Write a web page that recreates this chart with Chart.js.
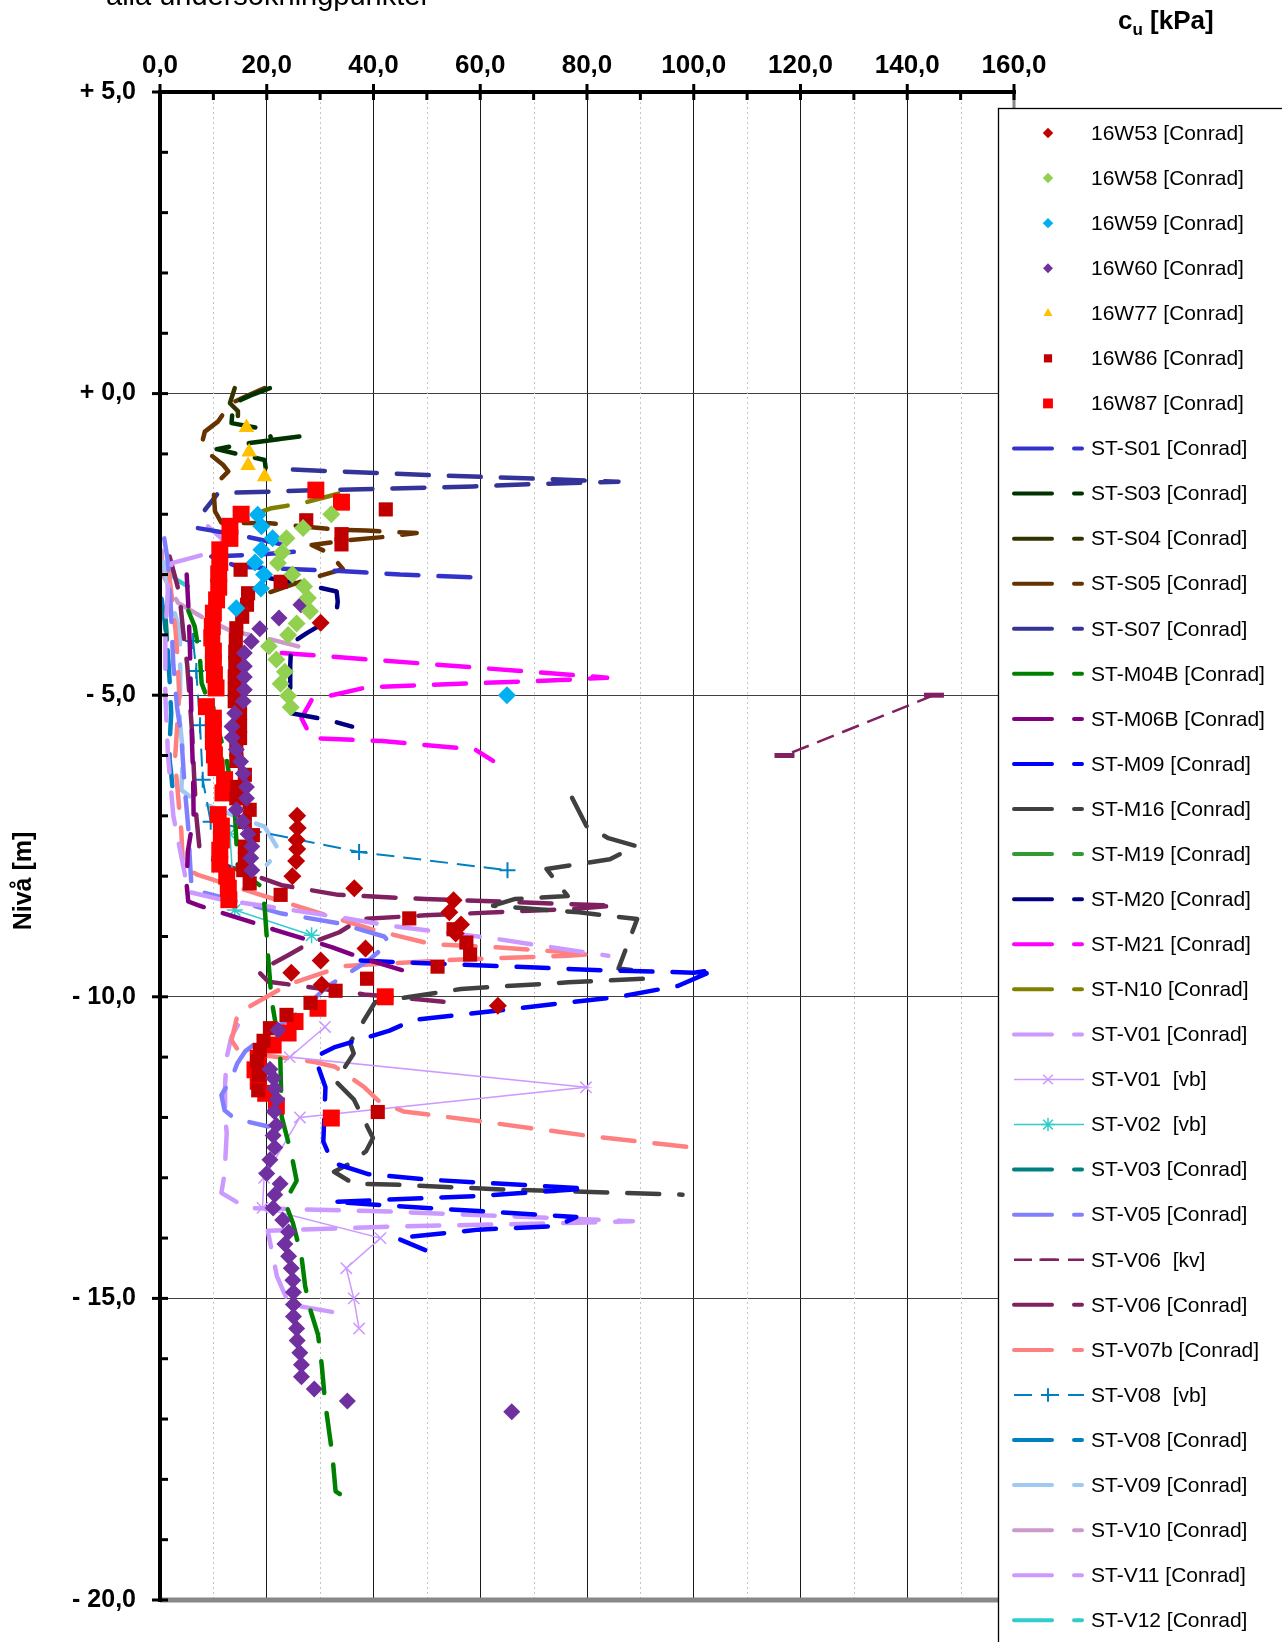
<!DOCTYPE html>
<html>
<head>
<meta charset="utf-8">
<title>cu - alla undersökningpunkter</title>
<script src="https://cdn.jsdelivr.net/npm/chart.js@4.4.1/dist/chart.umd.min.js"></script>
<style>
  html, body { margin: 0; padding: 0; background: #fff; }
  #wrap { width: 1282px; height: 1642px; }
</style>
</head>
<body>
<div id="wrap"><canvas id="myChart" width="1282" height="1642"></canvas></div>
<script>
// [cu kPa, nivå m]
const w53 = [[30.1,-3.8],[25.7,-7.0],[25.8,-7.2],[25.6,-7.4],[25.7,-7.55],[25.5,-7.75],[24.8,-8.0],[36.4,-8.2],[55.0,-8.4],[54.2,-8.6],[56.4,-8.8],[55.4,-8.95],[38.5,-9.2],[30.1,-9.4],[24.6,-9.6],[30.3,-9.8],[63.3,-10.15]];
const w58 = [[32.1,-2.0],[26.8,-2.23],[23.7,-2.4],[22.9,-2.63],[22.1,-2.81],[24.8,-3.0],[27.0,-3.2],[27.7,-3.39],[28.1,-3.61],[25.6,-3.81],[24.0,-4.0],[20.4,-4.19],[21.8,-4.41],[23.4,-4.61],[22.6,-4.81],[24.0,-5.01],[24.5,-5.2]];
const w59 = [[18.3,-2.01],[19.0,-2.2],[21.1,-2.4],[19.0,-2.59],[17.8,-2.8],[19.5,-3.0],[18.9,-3.23],[14.3,-3.56],[65.0,-5.0]];
const w60 = [[26.4,-3.5],[22.3,-3.72],[18.7,-3.9],[17.1,-4.11],[15.8,-4.3],[15.8,-4.52],[15.8,-4.7],[15.8,-4.91],[15.6,-5.1],[14.0,-5.3],[13.5,-5.52],[13.5,-5.7],[14.3,-5.9],[15.1,-6.1],[15.6,-6.3],[16.2,-6.52],[16.2,-6.71],[14.3,-6.9],[15.5,-7.1],[16.5,-7.3],[17.2,-7.51],[17.0,-7.7],[17.2,-7.9],
  [22.1,-10.55],[20.6,-11.2],[21.3,-11.35],[21.5,-11.52],[21.9,-11.7],[21.4,-11.9],[21.8,-12.13],[21.2,-12.3],[21.5,-12.5],[20.6,-12.7],[20.0,-12.93],[22.5,-13.1],[21.5,-13.28],[21.2,-13.5],[23.0,-13.7],[24.1,-13.9],[23.4,-14.1],[24.1,-14.3],[24.6,-14.5],[24.9,-14.7],[25.0,-14.9],[25.0,-15.1],[25.0,-15.3],[25.6,-15.5],[25.7,-15.7],[26.2,-15.9],[26.5,-16.1],[26.5,-16.3],[28.9,-16.5],[35.1,-16.7],[65.9,-16.88]];
const w77 = [[16.2,-0.56],[16.7,-0.97],[16.5,-1.19],[19.6,-1.38]];
const w86 = [[42.3,-1.92],[27.4,-2.1],[34.0,-2.33],[34.0,-2.5],[15.1,-2.92],[22.6,-3.12],[16.5,-3.31],[16.3,-3.5],[15.4,-3.7],[14.3,-3.89],[14.2,-4.08],[14.1,-4.28],[14.1,-4.47],[14.0,-4.69],[14.0,-4.91],[14.0,-5.1],[15.0,-5.3],[15.0,-5.52],[15.0,-5.71],[14.3,-5.9],[14.3,-6.09],[15.9,-6.32],[14.5,-6.52],[14.3,-6.71],[16.8,-6.9],[15.9,-7.1],[17.4,-7.32],[15.9,-7.51],[15.9,-7.71],[15.6,-7.9],[16.8,-8.12],[22.6,-8.31],
  [46.7,-8.7],[55.0,-8.88],[57.4,-9.1],[58.1,-9.3],[52.0,-9.5],[38.8,-9.7],[32.9,-9.9],[28.2,-10.1],[23.7,-10.3],[20.6,-10.52],[19.4,-10.73],[18.7,-10.88],[18.2,-11.07],[18.5,-11.3],[18.4,-11.55],[40.8,-11.91]];
const w87 = [[29.2,-1.6],[34.0,-1.8],[15.2,-2.0],[13.1,-2.2],[13.1,-2.4],[11.2,-2.59],[11.2,-2.8],[11.0,-2.99],[11.0,-3.21],[10.6,-3.42],[10.0,-3.64],[9.8,-3.86],[9.7,-4.05],[10.0,-4.27],[10.0,-4.46],[10.2,-4.66],[10.5,-4.88],[8.7,-5.19],[10.0,-5.38],[10.0,-5.57],[10.0,-5.77],[10.2,-5.99],[10.5,-6.2],[12.1,-6.4],[11.8,-6.62],[10.9,-6.98],[11.5,-7.17],[11.5,-7.4],[11.2,-7.57],[11.2,-7.8],[12.5,-8.0],[12.8,-8.2],[12.9,-8.39],
  [42.2,-10.0],[29.6,-10.19],[25.3,-10.41],[24.0,-10.6],[21.2,-10.8],[18.4,-11.02],[17.8,-11.21],[18.4,-11.4],[19.8,-11.6],[21.8,-11.81],[32.1,-12.01]];

const s01 = [[7.1,-2.23],[15,-2.35],[23.4,-2.51],[25.5,-2.62],[20,-2.66],[9.6,-2.7],[14.6,-2.87],[27.8,-2.92],[33.7,-2.94],[45,-3.0],[60,-3.05]];
const s03 = [[20.6,0.09],[17,-0.03],[13.7,-0.16],[13.4,-0.49],[20.3,-0.6],[20.9,-0.77],[26.2,-0.71],[16.8,-0.82],[10.6,-0.92],[15,-1.01],[19.6,-1.1],[19.8,-1.23]];
const s04 = [[14.0,0.09],[13.1,-0.16],[14.6,-0.29],[14.6,-0.49]];
const s05 = [[19.6,0.09],[16,-0.05],[13.1,-0.17],[10.9,-0.46],[8.4,-0.63],[8.0,-0.77],[8.7,-0.96],[11.8,-1.18],[12.8,-1.29],[10.0,-1.54],[10.3,-1.95],[11.5,-2.14],[20.6,-2.15],[33.7,-2.26],[38.7,-2.27],[42.4,-2.29],[48.1,-2.31],[42.8,-2.37],[34.3,-2.44],[28.4,-2.51],[31.8,-2.65],[34.3,-2.91],[27,-3.1],[20.0,-3.31]];
const s07 = [[24.9,-1.26],[50,-1.35],[73.7,-1.42],[85.9,-1.46],[70,-1.5],[58.7,-1.54],[30,-1.6],[10.9,-1.65],[8.4,-1.93]];
const m04b = [[5.3,-3.6],[6.5,-3.86],[7.5,-4.4],[7.8,-4.8],[9.5,-5.2],[11,-5.6],[12.5,-6.07],[14.0,-6.9],[14.6,-7.9],[19.0,-8.17],[19.6,-8.5],[20.3,-9.39],[20.9,-10.05],[22.5,-10.88],[22.8,-11.99],[24.6,-12.6],[25.6,-13.05],[23.4,-13.4],[24.9,-13.75],[26.5,-14.3],[27.2,-14.8],[28.2,-15.2],[29.6,-15.6],[30.3,-16.1],[30.9,-16.7],[32.3,-17.6],[32.9,-18.2],[36.6,-18.4]];
const m06b = [[5,-3.0],[5.3,-3.5],[5.6,-4.2],[5.8,-5.0],[6.0,-5.8],[6.2,-6.3],[6.3,-7.0],[5.2,-7.6],[5.0,-8.15],[5.3,-8.42],[7.1,-8.48],[10.9,-8.59],[17.8,-8.78],[21.5,-8.89],[32.3,-9.18],[37.6,-9.35],[47.7,-9.62]];
const m09 = [[37.6,-9.4],[63,-9.49],[83,-9.56],[100,-9.6],[104,-9.55],[97,-9.82],[86,-10.0],[63,-10.23],[47.7,-10.38],[43,-10.56],[32.6,-10.84],[29,-11.0],[31,-11.5],[30.6,-12.4],[32.3,-12.75],[39,-12.94],[50,-13.03],[80,-13.18],[60,-13.3],[32.3,-13.4],[50,-13.5],[78,-13.65],[74.5,-13.8],[59.7,-13.86],[44.3,-14.0],[49.7,-14.2]];
const m16 = [[77.2,-6.7],[79.9,-7.17],[84,-7.37],[89.2,-7.5],[84.3,-7.72],[72.4,-7.88],[76.4,-8.33],[66.4,-8.38],[62.4,-8.49],[78.5,-8.6],[89.4,-8.71],[87.7,-9.11],[85.9,-9.53],[88.7,-9.56],[91,-9.7],[76.5,-9.76],[56.4,-9.87],[40.3,-10.09],[37.6,-10.48],[35.6,-10.76],[36.3,-10.94],[32.9,-11.4],[36.3,-11.7],[39.9,-12.34],[38.6,-12.56],[35.9,-12.75],[32.6,-12.9],[36.3,-13.1],[43,-13.11],[63,-13.19],[97.9,-13.28]];
const m19 = [[10,-5.2],[10.8,-5.6],[11.5,-6.0],[12.1,-6.5]];
const m20 = [[20.6,-3.06],[29.0,-3.2],[33.1,-3.28],[33.3,-3.45],[33.1,-3.6],[30.6,-3.81],[27.5,-3.97],[24.6,-4.14],[24.4,-4.5],[24.4,-4.86],[24.6,-5.3],[31.5,-5.41],[36,-5.52]];
const m21 = [[22.8,-4.3],[50,-4.48],[83.8,-4.71],[75,-4.75],[50,-4.83],[38.7,-4.87],[28.4,-5.08],[26.5,-5.38],[28.4,-5.71],[41.6,-5.76],[59,-5.9],[62.4,-6.09]];
const n10 = [[33.4,-1.66],[26.5,-1.82],[20.9,-1.9],[19.3,-1.95]];
const v01 = [[9.0,-2.2],[11.5,-2.4],[12,-2.55],[9.0,-2.65],[2.2,-2.81],[1.5,-3.2],[1.0,-4.0],[1.0,-5.0],[1.5,-6.0],[2.5,-7.0],[4.5,-7.9],[5.3,-8.26],[12,-8.4],[20,-8.5],[32.8,-8.67],[43,-8.82],[63,-9.04],[84,-9.32]];
const v01vb = [[30.9,-10.5],[24.3,-11.0],[79.8,-11.5],[26.2,-12.0],[19.5,-13.0],[19.2,-13.5],[41.3,-14.0],[34.9,-14.5],[36.3,-15.0],[37.3,-15.5]];
const v02vb = [[13.1,-7.3],[14.0,-8.56],[28.4,-8.98]];
const v03 = [[0.9,-3.55],[1.2,-3.92],[1.3,-4.1]];
const v05 = [[0.8,-2.4],[1.5,-2.8],[2,-3.5],[2.5,-4.5],[3.2,-5.2],[4.0,-5.69],[4.6,-6.5],[5.3,-7.2],[5.6,-7.73],[5.9,-8.17],[8.4,-8.28],[15.9,-8.45],[22.8,-8.62],[33.4,-8.78],[42,-9.0],[43,-9.1],[39,-9.4],[31,-9.85],[27,-10.2],[22,-10.5],[16,-10.9],[14.5,-11.1],[13.4,-11.35],[11.5,-11.63],[12.1,-11.88],[14.0,-12.02],[20.3,-12.15]];
const v06kv = [[145,-5.0],[117,-6.0]];
const v06 = [[1.8,-2.7],[3.6,-3.3],[4.3,-3.9],[5.1,-4.5],[5.6,-5.1],[6.0,-5.6],[6.4,-6.35],[6.8,-7.0],[7.4,-7.54],[10.3,-7.76],[22.8,-8.15],[33.4,-8.31],[49.7,-8.38],[66.4,-8.43],[85.2,-8.49],[77.8,-8.54],[49.7,-8.65],[37.6,-8.71],[33.6,-8.93],[27.6,-9.13],[24.0,-9.31],[18.4,-9.58],[20.3,-9.75],[38.3,-9.96],[48.3,-10.04],[55,-10.1]];
const v07b = [[1.6,-2.9],[2.9,-3.92],[3.3,-4.4],[3.6,-5.0],[2.8,-6.08],[3.4,-6.68],[4.0,-7.26],[4.3,-7.84],[7.1,-7.98],[17.8,-8.28],[39.6,-8.88],[51,-9.13],[63,-9.18],[81,-9.29],[76.5,-9.32],[56.4,-9.38],[34.3,-9.49],[24.2,-9.79],[14.6,-10.27],[13.4,-10.72],[14.6,-10.88],[16.6,-10.94],[24.0,-11.02],[29.0,-11.08],[32.8,-11.16],[38.3,-11.5],[40.9,-11.72],[45.6,-11.9],[59.7,-12.06],[79.8,-12.3],[98.9,-12.49]];
const v08vb = [[6.2,-4.1],[6.8,-4.6],[7.5,-5.5],[8,-6.4],[9.5,-7.1],[37.3,-7.6],[65.1,-7.9]];
const v08 = [[0.3,-3.4],[0.9,-3.8],[1.4,-4.2],[1.8,-4.75],[2.1,-5.3],[1.8,-5.8],[1.8,-6.07],[2.1,-6.3],[2.5,-6.7]];
const v09 = [[0.8,-2.8],[1.5,-3.25],[3.7,-3.92],[3.8,-4.6],[3.7,-5.41],[4.3,-5.96],[4.0,-6.57],[6.5,-6.74],[13.4,-6.98],[19.6,-7.18],[22.4,-7.59],[20.0,-7.81]];
const v10 = [[0.3,-2.6],[0.5,-3.0],[3.4,-3.47],[7.8,-3.7],[13.4,-3.94],[19.6,-4.05],[25.9,-4.19]];
const v11 = [[14.6,-10.47],[13.4,-10.66],[12.5,-11.0],[12.2,-11.44],[12.2,-12.0],[12.5,-12.26],[12.1,-12.93],[11.5,-13.25],[16.2,-13.5],[43,-13.56],[88.6,-13.72],[76.5,-13.75],[43,-13.81],[20.2,-13.88],[21.9,-14.63],[24.2,-15.1],[35.9,-15.28]];
const v12 = [[0.8,-2.85],[3,-3.08],[6.5,-3.26]];

const xTicks = [0, 20, 40, 60, 80, 100, 120, 140, 160];
const yTicks = [5, 0, -5, -10, -15, -20];

// serier i legendordning
const series = [
  { label: '16W53 [Conrad]', data: w53, kind: 'marker', color: '#C00000', style: 'rectRot', r: 9 },
  { label: '16W58 [Conrad]', data: w58, kind: 'marker', color: '#92D050', style: 'rectRot', r: 9 },
  { label: '16W59 [Conrad]', data: w59, kind: 'marker', color: '#00B0F0', style: 'rectRot', r: 9 },
  { label: '16W60 [Conrad]', data: w60, kind: 'marker', color: '#7030A0', style: 'rectRot', r: 8.5 },
  { label: '16W77 [Conrad]', data: w77, kind: 'marker', color: '#FFC000', style: 'triangle', r: 9 },
  { label: '16W86 [Conrad]', data: w86, kind: 'marker', color: '#C00000', style: 'rect', r: 10 },
  { label: '16W87 [Conrad]', data: w87, kind: 'marker', color: '#FF0000', style: 'rect', r: 12 },
  { label: 'ST-S01 [Conrad]', data: s01, kind: 'conrad', color: '#3333CC' },
  { label: 'ST-S03 [Conrad]', data: s03, kind: 'conrad', color: '#003300' },
  { label: 'ST-S04 [Conrad]', data: s04, kind: 'conrad', color: '#333300' },
  { label: 'ST-S05 [Conrad]', data: s05, kind: 'conrad', color: '#663300' },
  { label: 'ST-S07 [Conrad]', data: s07, kind: 'conrad', color: '#333399' },
  { label: 'ST-M04B [Conrad]', data: m04b, kind: 'conrad', color: '#008000' },
  { label: 'ST-M06B [Conrad]', data: m06b, kind: 'conrad', color: '#800080' },
  { label: 'ST-M09 [Conrad]', data: m09, kind: 'conrad', color: '#0000FF' },
  { label: 'ST-M16 [Conrad]', data: m16, kind: 'conrad', color: '#404040' },
  { label: 'ST-M19 [Conrad]', data: m19, kind: 'conrad', color: '#339933' },
  { label: 'ST-M20 [Conrad]', data: m20, kind: 'conrad', color: '#000080' },
  { label: 'ST-M21 [Conrad]', data: m21, kind: 'conrad', color: '#FF00FF' },
  { label: 'ST-N10 [Conrad]', data: n10, kind: 'conrad', color: '#808000' },
  { label: 'ST-V01 [Conrad]', data: v01, kind: 'conrad', color: '#CC99FF' },
  { label: 'ST-V01  [vb]', data: v01vb, kind: 'vb', color: '#CC99FF', style: 'crossRot', r: 8 },
  { label: 'ST-V02  [vb]', data: v02vb, kind: 'vb', color: '#33CCCC', style: 'star', r: 8 },
  { label: 'ST-V03 [Conrad]', data: v03, kind: 'conrad', color: '#008080' },
  { label: 'ST-V05 [Conrad]', data: v05, kind: 'conrad', color: '#8080FF' },
  { label: 'ST-V06  [kv]', data: v06kv, kind: 'vbdash', color: '#802060', style: 'line', r: 10, w: 2.5, pw: 5 },
  { label: 'ST-V06 [Conrad]', data: v06, kind: 'conrad', color: '#7F2060' },
  { label: 'ST-V07b [Conrad]', data: v07b, kind: 'conrad', color: '#FF8080' },
  { label: 'ST-V08  [vb]', data: v08vb, kind: 'vbdash', color: '#0080C0', style: 'cross', r: 8, w: 2, pw: 2 },
  { label: 'ST-V08 [Conrad]', data: v08, kind: 'conrad', color: '#0080C0' },
  { label: 'ST-V09 [Conrad]', data: v09, kind: 'conrad', color: '#A0C8F0' },
  { label: 'ST-V10 [Conrad]', data: v10, kind: 'conrad', color: '#CC99CC' },
  { label: 'ST-V11 [Conrad]', data: v11, kind: 'conrad', color: '#CC99FF' },
  { label: 'ST-V12 [Conrad]', data: v12, kind: 'conrad', color: '#33CCCC' }
];

const arial = '"Liberation Sans", Arial, sans-serif';

function fmt(v) {
  return Math.abs(v).toFixed(1).replace('.', ',');
}

const datasets = series.map(s => {
  const d = {
    label: s.label,
    data: s.data.map(p => ({ x: p[0], y: p[1] })),
    kind: s.kind,
    borderColor: s.color,
    backgroundColor: s.color
  };
  if (s.kind === 'marker') {
    Object.assign(d, { showLine: false, pointStyle: s.style, pointRadius: s.r, pointBorderWidth: 0 });
  } else if (s.kind === 'conrad') {
    Object.assign(d, { showLine: true, borderWidth: 4.5, borderDash: [32, 20], borderCapStyle: 'round',
      borderJoinStyle: 'round', pointRadius: 0 });
  } else {
    Object.assign(d, { showLine: true, borderWidth: s.w || 1.5, borderDash: s.kind === 'vbdash' ? [18, 9] : [],
      pointStyle: s.style, pointRadius: s.r, pointBorderWidth: s.pw || 1.5, pointBorderColor: s.color });
  }
  return d;
});

const LEG_TOP = 133, LEG_STEP = 45.07;

const frame = {
  id: 'frame',
  beforeDatasetsDraw(chart) {
    const { ctx, chartArea: a, scales: { x } } = chart;
    ctx.save();
    ctx.strokeStyle = '#c4c4c4';
    ctx.lineWidth = 1;
    ctx.setLineDash([2, 3]);
    for (let v = 10; v < 160; v += 20) {
      const px = Math.round(x.getPixelForValue(v)) + 0.5;
      ctx.beginPath(); ctx.moveTo(px, a.top); ctx.lineTo(px, a.bottom); ctx.stroke();
    }
    ctx.restore();
  },
  afterDatasetsDraw(chart) {
    const { ctx, chartArea: a, scales: { x, y } } = chart;
    ctx.save();
    // ramar
    ctx.strokeStyle = '#888'; ctx.lineWidth = 5;
    ctx.beginPath(); ctx.moveTo(a.left, a.bottom); ctx.lineTo(a.right, a.bottom); ctx.stroke();
    ctx.lineWidth = 3;
    ctx.beginPath(); ctx.moveTo(a.right, a.top); ctx.lineTo(a.right, a.bottom); ctx.stroke();
    ctx.strokeStyle = '#000'; ctx.lineWidth = 4;
    ctx.beginPath(); ctx.moveTo(a.left - 2, a.top); ctx.lineTo(a.right + 2, a.top); ctx.stroke();
    ctx.beginPath(); ctx.moveTo(a.left, a.top); ctx.lineTo(a.left, a.bottom + 2); ctx.stroke();
    // skalstreck
    ctx.lineWidth = 3;
    for (let v = 0; v <= 160; v += 10) {
      const px = x.getPixelForValue(v);
      ctx.beginPath();
      ctx.moveTo(px, v % 20 === 0 ? a.top - 8 : a.top);
      ctx.lineTo(px, a.top + 8);
      ctx.stroke();
    }
    for (let v = -20; v <= 5; v += 1) {
      const py = y.getPixelForValue(v);
      ctx.beginPath();
      ctx.moveTo(v % 5 === 0 ? a.left - 8 : a.left, py);
      ctx.lineTo(a.left + 8, py);
      ctx.stroke();
    }
    ctx.restore();
  },
  afterDraw(chart) {
    const ctx = chart.ctx;
    const dp = Chart.helpers && Chart.helpers.drawPoint;
    ctx.save();
    // legend
    ctx.fillStyle = '#fff';
    ctx.fillRect(998.5, 108.5, 320, 1600);
    ctx.strokeStyle = '#000'; ctx.lineWidth = 1.3;
    ctx.strokeRect(998.5, 108.5, 320, 1600);
    chart.data.datasets.forEach((ds, i) => {
      const cy = LEG_TOP + i * LEG_STEP;
      ctx.save();
      ctx.strokeStyle = ds.borderColor;
      ctx.fillStyle = ds.backgroundColor;
      if (ds.kind === 'conrad') {
        ctx.lineWidth = 4; ctx.lineCap = 'round'; ctx.setLineDash([38, 22]);
        ctx.beginPath(); ctx.moveTo(1014, cy); ctx.lineTo(1082, cy); ctx.stroke();
      } else if (ds.kind !== 'marker') {
        ctx.lineWidth = ds.borderWidth; ctx.setLineDash(ds.borderDash);
        ctx.beginPath(); ctx.moveTo(1014, cy); ctx.lineTo(1084, cy); ctx.stroke();
        ctx.setLineDash([]);
      }
      if (ds.kind !== 'conrad' && dp) {
        const small = ds.kind === 'marker' ? 0.58 : 0.85;
        dp(ctx, { pointStyle: ds.pointStyle, radius: ds.pointRadius * small, rotation: 0,
          borderWidth: ds.kind === 'marker' ? 0 : ds.pointBorderWidth }, 1048, cy);
      }
      ctx.restore();
      ctx.fillStyle = '#000';
      ctx.font = '21px ' + arial;
      ctx.textAlign = 'left';
      ctx.textBaseline = 'middle';
      ctx.fillText(ds.label, 1091, cy + 1);
    });
    // axeltitlar
    ctx.fillStyle = '#000';
    ctx.textBaseline = 'alphabetic';
    ctx.textAlign = 'left';
    ctx.font = 'bold 26px ' + arial;
    let tx = 1118;
    ctx.fillText('c', tx, 29);
    tx += ctx.measureText('c').width;
    ctx.font = 'bold 17px ' + arial;
    ctx.fillText('u', tx, 35);
    tx += ctx.measureText('u').width;
    ctx.font = 'bold 26px ' + arial;
    ctx.fillText(' [kPa]', tx, 29);
    ctx.font = '29px ' + arial;
    ctx.fillText('alla undersökningpunkter', 106, 5);
    ctx.save();
    ctx.translate(31, 881);
    ctx.rotate(-Math.PI / 2);
    ctx.textAlign = 'center';
    ctx.font = 'bold 25px ' + arial;
    ctx.fillText('Nivå [m]', 0, 0);
    ctx.restore();
    ctx.restore();
  }
};

const config = {
  type: 'scatter',
  data: { datasets: datasets },
  options: {
    responsive: false,
    animation: false,
    events: [],
    layout: { padding: { left: 0, top: 0, right: 268, bottom: 42 } },
    elements: { line: { tension: 0, fill: false } },
    plugins: { legend: { display: false }, tooltip: { enabled: false } },
    scales: {
      x: {
        type: 'linear',
        position: 'top',
        min: 0,
        max: 160,
        afterFit: s => { s.height = 92; },
        afterBuildTicks: s => { s.ticks = xTicks.map(v => ({ value: v })); },
        ticks: {
          autoSkip: false,
          maxRotation: 0,
          padding: 11,
          color: '#000',
          font: { family: arial, size: 26, weight: 'bold' },
          callback: v => fmt(v)
        },
        grid: { color: '#1a1a1a', lineWidth: 1, drawTicks: false },
        border: { display: false }
      },
      y: {
        type: 'linear',
        min: -20,
        max: 5,
        afterFit: s => { s.width = 160; },
        afterBuildTicks: s => { s.ticks = yTicks.map(v => ({ value: v })); },
        ticks: {
          autoSkip: false,
          padding: 24,
          color: '#000',
          font: { family: arial, size: 25, weight: 'bold' },
          callback: v => (v >= 0 ? '+ ' : '- ') + fmt(v)
        },
        grid: { color: '#404040', lineWidth: 1, drawTicks: false },
        border: { display: false }
      }
    }
  },
  plugins: [frame]
};

const myChart = new Chart(document.getElementById('myChart'), config);
</script>
</body>
</html>
